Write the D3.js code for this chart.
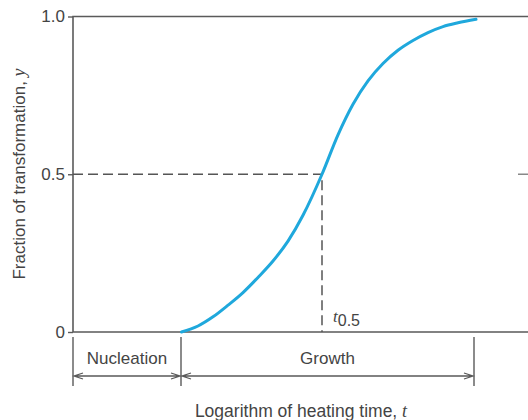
<!DOCTYPE html>
<html><head><meta charset="utf-8">
<script src="https://cdn.jsdelivr.net/npm/d3@7"></script>
<style>
body{margin:0;background:#fff;}
svg text{font-family:"Liberation Sans",Arial,sans-serif;fill:#444;}
</style></head>
<body><svg id="c" width="528" height="420"></svg>
<script>
// Data (x in arbitrary log-time units)
const logTime = [2.17, 2.5, 2.8, 3.1, 3.4, 3.7, 4.0, 4.3, 4.6, 4.98, 5.3, 5.6, 5.9, 6.2, 6.5, 6.8, 7.1, 7.4, 7.7, 8.06];
const fraction = [0, 0.019, 0.048, 0.085, 0.125, 0.173, 0.225, 0.288, 0.37, 0.5, 0.625, 0.722, 0.796, 0.851, 0.893, 0.924, 0.949, 0.968, 0.98, 0.991];
const yTicks = [0, 0.5, 1.0];
const yTickLabels = ["0", "0.5", "1.0"];
const tHalf = 4.98;
const phases = ["Nucleation", "Growth"];
const phaseBounds = [0, 2.16, 8.02];

const svg = d3.select("#c");
const x = d3.scaleLinear().domain([0, 10]).range([73, 573]);
const y = d3.scaleLinear().domain([0, 1]).range([332, 16.5]);
const axisColor = "#5a5a5a";

// frame (right side beyond view)
svg.append("path")
  .attr("d", `M${x(10)},${y(1)}H${x(0)}V${y(0)}H${x(10)}`)
  .attr("fill","none").attr("stroke",axisColor).attr("stroke-width",1.6);

// left ticks
const yAxis = d3.axisLeft(y).tickValues(yTicks).tickSize(5).tickPadding(3)
  .tickFormat((d,i)=>yTickLabels[i]);
const ga = svg.append("g").attr("transform",`translate(${x(0)},0)`).call(yAxis);
ga.select(".domain").remove();
ga.selectAll("line").attr("stroke",axisColor).attr("stroke-width",1.4);
ga.selectAll("text").style("font-size","17px").attr("fill","#444");
// right tick at 0.5 (partially visible)
svg.append("line").attr("x1",518).attr("x2",x(10)).attr("y1",y(0.5)).attr("y2",y(0.5))
  .attr("stroke","#888").attr("stroke-width",1.4);

// dashed guides
svg.append("path")
  .attr("d",`M${x(0)},${y(0.5)}H${x(tHalf)}V${y(0)}`)
  .attr("fill","none").attr("stroke","#555").attr("stroke-width",1.5)
  .attr("stroke-dasharray","10,5");

// curve
const line = d3.line().x((d,i)=>x(logTime[i])).y(d=>y(d)).curve(d3.curveMonotoneX);
svg.append("path").datum(fraction).attr("d",line)
  .attr("fill","none").attr("stroke","#1fa8dc").attr("stroke-width",3).attr("stroke-linecap","round");

// t0.5 label
const tl = svg.append("text").attr("x",x(tHalf)+11).attr("y",322).style("font-size","17px");
tl.append("tspan").text("t").style("font-family","'Liberation Serif',serif").style("font-style","italic");
tl.append("tspan").text("0.5").attr("dy",4).style("font-size","16px");

// phase brackets
const arrowY = 376;
phaseBounds.forEach(b=>{
  svg.append("line").attr("x1",x(b)).attr("x2",x(b)).attr("y1",337).attr("y2",386)
    .attr("stroke",axisColor).attr("stroke-width",1.4);
});
phases.forEach((p,i)=>{
  const a = x(phaseBounds[i])+1, b = x(phaseBounds[i+1])-1;
  svg.append("path")
    .attr("d",`M${a},${arrowY}H${b} M${a+9},${arrowY-3}L${a},${arrowY}L${a+9},${arrowY+3} M${b-9},${arrowY-3}L${b},${arrowY}L${b-9},${arrowY+3}`)
    .attr("fill","none").attr("stroke",axisColor).attr("stroke-width",1.3);
  svg.append("text").attr("x",(x(phaseBounds[i])+x(phaseBounds[i+1]))/2).attr("y",364)
    .attr("text-anchor","middle").style("font-size","17px").text(p);
});

// axis titles
const xt = svg.append("text").attr("x",301).attr("y",417).attr("text-anchor","middle").style("font-size","17.5px");
xt.append("tspan").text("Logarithm of heating time, ");
xt.append("tspan").text("t").style("font-family","'Liberation Serif',serif").style("font-style","italic").style("font-size","18px");
const yt = svg.append("text").attr("transform","translate(25,174) rotate(-90)").attr("text-anchor","middle").style("font-size","17px");
yt.append("tspan").text("Fraction of transformation, ");
yt.append("tspan").text("y").style("font-family","'Liberation Serif',serif").style("font-style","italic").style("font-size","18px");
</script></body></html>
